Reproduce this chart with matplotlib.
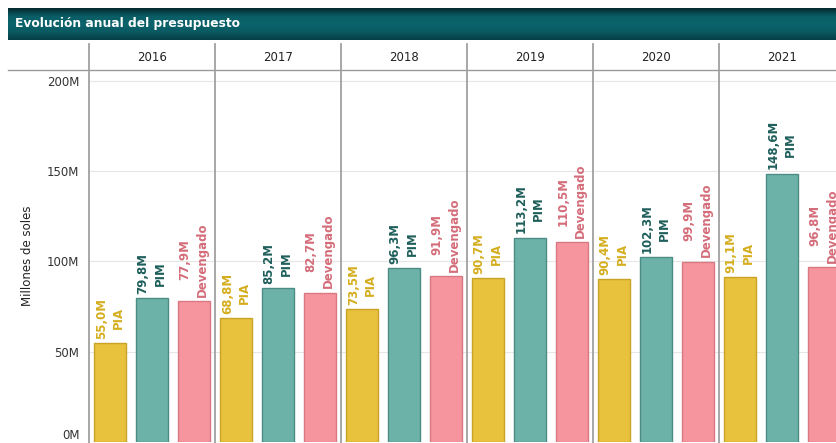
import numpy as np
import matplotlib.pyplot as plt
from matplotlib.colors import LinearSegmentedColormap

# datos
years = ["2016", "2017", "2018", "2019", "2020", "2021"]
series = ["PIA", "PIM", "Devengado"]
pia = [55.0, 68.8, 73.5, 90.7, 90.4, 91.1]
pim = [79.8, 85.2, 96.3, 113.2, 102.3, 148.6]
devengado = [77.9, 82.7, 91.9, 110.5, 99.9, 96.8]
y_ticks = [0, 50, 100, 150, 200]

bar_colors = ["#E8C23C", "#6DB2A9", "#F6959E"]
edge_colors = ["#C9A326", "#4B8D86", "#D97882"]
label_colors = ["#D4AE1E", "#1F5F5B", "#D46D7A"]

W, H = 837, 443
fig = plt.figure(figsize=(W / 100, H / 100), dpi=100)
fig.patch.set_facecolor("white")


def fx(px):
    return px / W


def fy(py):
    return 1 - py / H


# barra de titulo con degradado
ax_t = fig.add_axes([fx(8), fy(40), 1 - fx(8), (40 - 8) / H])
cmap = LinearSegmentedColormap.from_list(
    "bar", ["#042a2e", "#0a5d65", "#0b636b", "#0a5a62", "#063f44"]
)
grad = np.linspace(0, 1, 64).reshape(-1, 1)
ax_t.imshow(grad, aspect="auto", cmap=cmap, extent=[0, 1, 0, 1])
ax_t.set_axis_off()
ax_t.text(0.008, 0.5, "Evolución anual del presupuesto", color="white",
          fontsize=8.8, fontweight="bold", va="center", ha="left",
          transform=ax_t.transAxes)

# area principal
panel_w = 126
left_px, top_px, bottom_px = 89, 70, 442
ax = fig.add_axes([fx(left_px), fy(bottom_px), (panel_w * 6) / W,
                   (bottom_px - top_px) / H])
ax.set_xlim(-0.5, 5.5)
ax.set_ylim(0, 206)

x = np.arange(len(years))
offs = [-0.333, 0.0, 0.333]
for k, vals in enumerate([pia, pim, devengado]):
    bars = ax.bar(x + offs[k], vals, width=0.255, color=bar_colors[k],
                  edgecolor=edge_colors[k], linewidth=1.0, zorder=3)
    for b, v in zip(bars, vals):
        txt = f"{v:.1f}M".replace(".", ",") + "\n" + series[k]
        ax.annotate(txt, (b.get_x() + b.get_width() / 2, v),
                    xytext=(0, 3), textcoords="offset points",
                    rotation=90, ha="center", va="bottom",
                    multialignment="center", linespacing=1.45,
                    fontsize=8.5, fontweight="bold", color=label_colors[k],
                    annotation_clip=False, zorder=4)

ax.set_yticks(y_ticks)
ax.set_yticklabels([f"{t}M" for t in y_ticks])
ax.tick_params(axis="y", length=0, pad=7, labelsize=8.5, labelcolor="#333333")
ax.get_yticklabels()[0].set_verticalalignment("bottom")
ax.set_xticks([])
ax.grid(axis="y", color="#e6e6e6", linewidth=0.8, zorder=0)
for s in ax.spines.values():
    s.set_visible(False)
ax.set_ylabel("Millones de soles", fontsize=8.5, color="#222222", labelpad=9)

# cabecera de anios y separadores
ax_h = fig.add_axes([0, 0, 1, 1], facecolor="none")
ax_h.set_xlim(0, W)
ax_h.set_ylim(H, 0)
ax_h.set_axis_off()
ax_h.plot([8, W], [70, 70], color="#9a9a9a", linewidth=1.0)
for i, yr in enumerate(years):
    x0 = left_px + i * panel_w
    ax_h.plot([x0, x0], [44, 443], color="#a0a0a0", linewidth=1.3)
    ax_h.text(x0 + panel_w / 2, 57, yr, ha="center", va="center",
              fontsize=8.5, color="#222222")

fig.savefig("out.png", dpi=100)
